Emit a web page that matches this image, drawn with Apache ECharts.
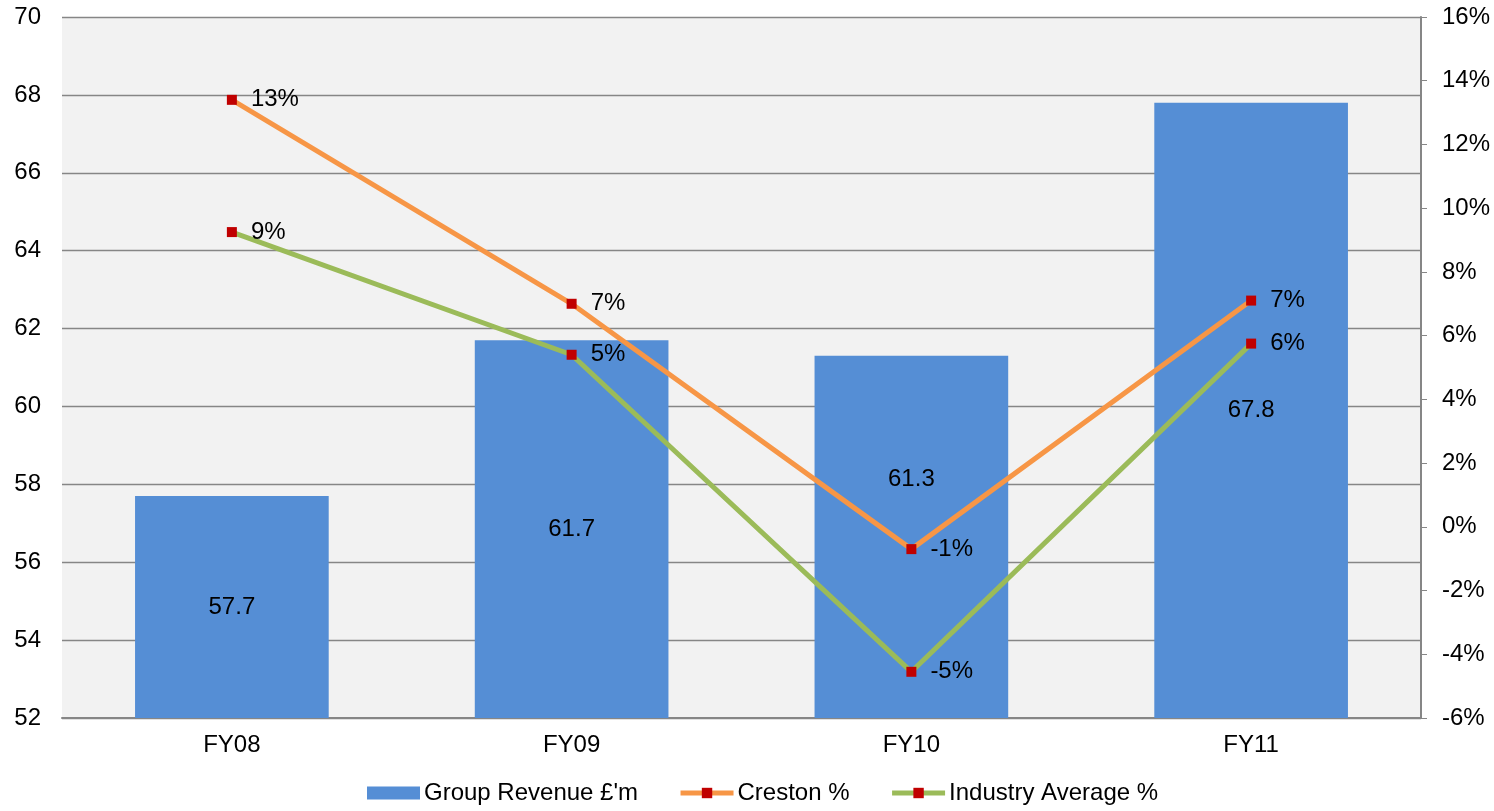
<!DOCTYPE html>
<html>
<head>
<meta charset="utf-8">
<script src="https://cdn.jsdelivr.net/npm/echarts@6/dist/echarts.min.js"></script>
<style>
  html, body { margin: 0; padding: 0; background: #ffffff; }
  #chart { width: 1494px; height: 811px; }
</style>
</head>
<body>
<div id="chart"></div>
<script>
// Financial years on the category axis
const years = ['FY08', 'FY09', 'FY10', 'FY11'];
// Group revenue in £ millions (left axis)
const revenue = [57.7, 61.7, 61.3, 67.8];
// Year-on-year growth in percent (right axis)
const crestonPct = [13.4, 7.0, -0.7, 7.1];
const industryPct = [9.25, 5.4, -4.55, 5.75];

const FONT = 'Liberation Sans, Arial, sans-serif';
const GRID_GREY = '#868686';
const FS = 24;

const pctLabel = {
  show: true,
  position: 'right',
  distance: 14,
  color: '#000',
  fontSize: FS,
  fontFamily: FONT,
  formatter: p => Math.round(p.value) + '%'
};

// FY10 revenue label sits higher so it clears the growth lines
const revenueData = revenue.map((v, i) => i === 2
  ? { value: v, label: { offset: [0, -58] } }
  : v);

const chart = echarts.init(document.getElementById('chart'), null, { renderer: 'canvas' });
chart.setOption({
  animation: false,
  textStyle: { fontFamily: FONT },
  grid: {
    left: 62, right: 73, top: 17, bottom: 93,
    show: true, backgroundColor: '#f2f2f2', borderWidth: 0
  },
  legend: {
    bottom: 1,
    left: 362,
    itemWidth: 53,
    itemHeight: 13,
    itemGap: 40,
    textStyle: { fontSize: FS, color: '#000', fontFamily: FONT, padding: [0, 0, 0, -1] },
    data: [
      { name: 'Group Revenue £\'m', icon: 'rect' },
      { name: 'Creston %', lineStyle: { width: 5 } },
      { name: 'Industry Average %', lineStyle: { width: 5 } }
    ]
  },
  xAxis: {
    type: 'category',
    data: years,
    axisLine: { onZero: false, lineStyle: { color: GRID_GREY, width: 2 } },
    axisTick: { show: false },
    axisLabel: { color: '#000', fontSize: FS, margin: 15, fontFamily: FONT }
  },
  yAxis: [
    {
      type: 'value',
      min: 52, max: 70, interval: 2,
      axisLine: { show: false },
      axisTick: { show: false },
      axisLabel: { color: '#000', fontSize: FS, margin: 21, fontFamily: FONT },
      splitLine: { lineStyle: { color: GRID_GREY, width: 1.3 } }
    },
    {
      type: 'value',
      min: -6, max: 16, interval: 2,
      position: 'right',
      axisLine: { show: true, onZero: false, lineStyle: { color: GRID_GREY, width: 2 } },
      axisTick: { show: true, inside: false, length: 6, lineStyle: { color: GRID_GREY, width: 1 } },
      axisLabel: { color: '#000', fontSize: FS, margin: 21, fontFamily: FONT, formatter: '{value}%' },
      splitLine: { show: false }
    }
  ],
  series: [
    {
      name: 'Group Revenue £\'m',
      type: 'bar',
      data: revenueData,
      barWidth: '57%',
      itemStyle: { color: '#558ed5' },
      label: {
        show: true, position: 'inside', color: '#000', fontSize: FS, fontFamily: FONT,
        formatter: p => p.value.toFixed(1)
      },
      z: 2
    },
    {
      name: 'Creston %',
      type: 'line',
      yAxisIndex: 1,
      data: crestonPct,
      symbol: 'rect',
      symbolSize: 10,
      lineStyle: { color: '#f79646', width: 5 },
      itemStyle: { color: '#c00000', borderWidth: 0 },
      color: '#f79646',
      label: pctLabel,
      z: 3
    },
    {
      name: 'Industry Average %',
      type: 'line',
      yAxisIndex: 1,
      data: industryPct,
      symbol: 'rect',
      symbolSize: 10,
      lineStyle: { color: '#9bbb59', width: 5 },
      itemStyle: { color: '#c00000', borderWidth: 0 },
      color: '#9bbb59',
      label: pctLabel,
      z: 3
    }
  ]
});
</script>
</body>
</html>
